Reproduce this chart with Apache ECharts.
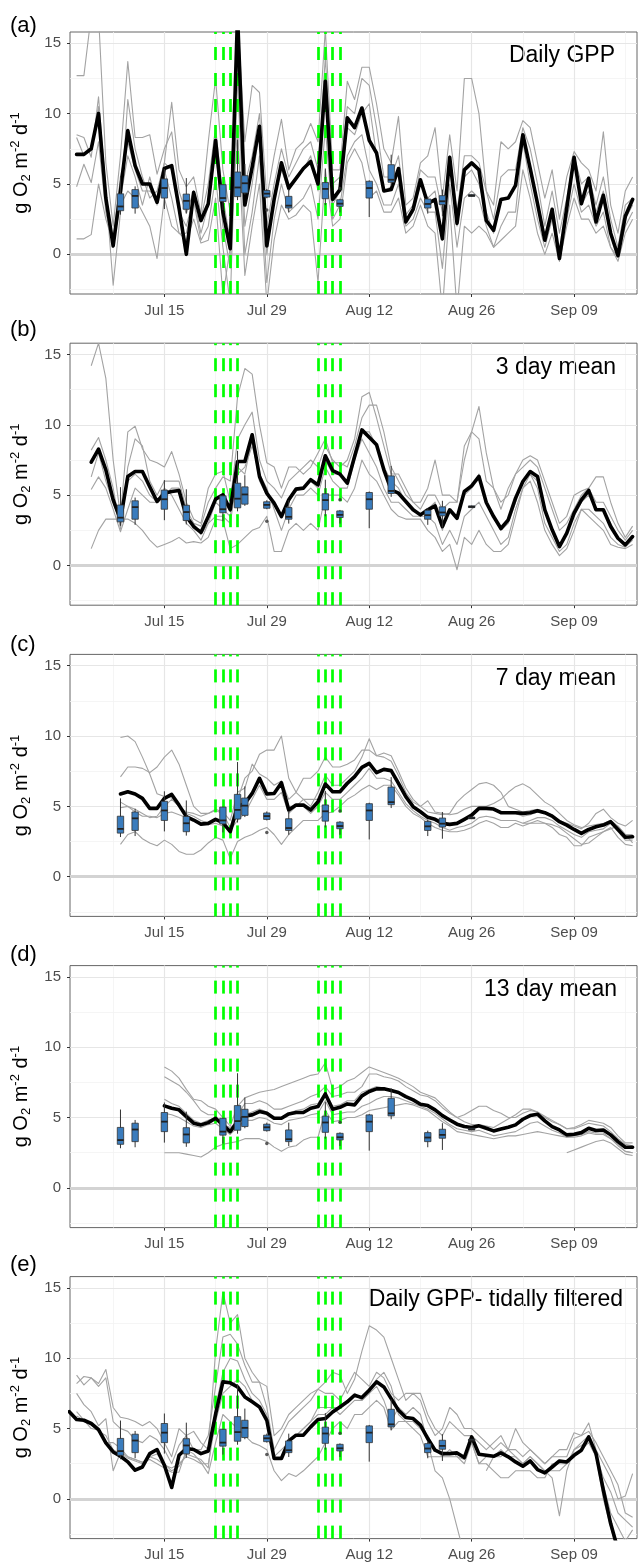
<!DOCTYPE html>
<html>
<head>
<meta charset="utf-8">
<script src="https://cdn.jsdelivr.net/npm/echarts@6/dist/echarts.min.js"></script>
<style>
  html, body { margin: 0; padding: 0; background: #fff; }
  #chart { width: 638px; height: 1562px; }
</style>
</head>
<body>
<div id="chart"></div>
<script>
var FONT = '"Liberation Sans", Arial, sans-serif';

// x values are day numbers: Jul d -> d, Aug d -> 31 + d, Sep d -> 62 + d
const tickDays = [15, 29, 43, 57, 71];
const tickLabels = ['Jul 15', 'Jul 29', 'Aug 12', 'Aug 26', 'Sep 09'];
const minorDays = [8, 22, 36, 50, 64, 78];
const yTicks = [0, 5, 10, 15];
const yMinor = [-2.5, 2.5, 7.5, 12.5];
// green dashed event days (Jul 22-25, Aug 5-8)
const eventDays = [22, 23, 24, 25, 36, 37, 38, 39];

// chamber measurements: min, q1, median, q3, max
const boxDays = [9, 11, 15, 18, 23, 25, 26, 29, 32, 37, 39, 43, 46, 51, 53, 57];
const boxStats = [
  [2.82, 3.1, 3.4, 4.3, 5.57],
  [2.89, 3.29, 4.15, 4.6, 4.83],
  [3.22, 4.0, 4.71, 5.36, 6.07],
  [2.92, 3.2, 3.8, 4.28, 5.42],
  [3.15, 3.75, 4.0, 4.95, 4.98],
  [3.85, 4.1, 4.75, 5.85, 8.15],
  [4.24, 4.36, 5.05, 5.59, 6.42],
  [4.0, 4.07, 4.31, 4.53, 4.64],
  [2.98, 3.29, 3.46, 4.12, 4.64],
  [3.5, 3.95, 4.65, 5.1, 6.1],
  [2.98, 3.41, 3.6, 3.88, 3.95],
  [2.65, 4.0, 4.71, 5.19, 5.26],
  [4.88, 5.12, 5.3, 6.37, 7.08],
  [2.89, 3.29, 3.58, 3.93, 4.07],
  [2.7, 3.53, 3.77, 4.17, 4.6],
  [4.1, 4.12, 4.17, 4.24, 4.26]
];
const outlierPts = [[29, 3.15], [39, 4.67]];

const panelLabels = ['(a)', '(b)', '(c)', '(d)', '(e)'];
const panelTitles = ['Daily GPP', '3 day mean', '7 day mean', '13 day mean', 'Daily GPP- tidally filtered'];

// (a) daily GPP, Jul 3 - Sep 17
const startA = 3;
const meanA = [
  7.1, 7.1, 7.5, 10.0, 4.0, 0.6, 4.5, 8.8, 6.3, 5.0, 5.0, 3.7, 6.1, 6.3, 3.3, 0.0, 4.4, 2.4, 3.6, 8.1, 3.0, 0.4, 17.0, 3.5, 6.2, 9.1, 0.6, 3.9, 6.5,
  4.7, 5.4, 6.1, 6.6, 5.0, 12.3, 3.9, 4.6, 9.7, 9.0, 10.4, 8.1, 7.2, 4.5, 4.6, 6.1, 2.3, 3.2, 5.3, 3.6, 3.9, 1.1, 6.9, 2.2, 6.0, 6.5, 6.0, 2.4, 1.7, 3.9, 4.0,
  4.9, 8.5, 6.1, 3.6, 1.0, 3.2, -0.3, 3.3, 6.9, 3.6, 5.4, 2.3, 4.2, 1.5, -0.1, 2.7, 3.9
];
const grayA = [
  [12.7, 12.7, 17.0, 17.0, 6.5, 2.0, 7.0, 13.7, 8.3, 8.3, 8.5, 5.7, 7.5, 8.7, 4.5, 2.9, 4.5, 2.5, 5.0, 9.0, 4.0, 1.0, 16.0, 5.0, 7.0, 10.0, 2.0, 5.0, 7.5,
   5.5, 6.5, 7.5, 8.0, 6.0, 14.0, 5.0, 5.5, 10.5, 10.0, 12.5, 12.0, 9.0, 5.5, 5.5, 7.0, 2.8, 3.5, 6.0, 5.5, 5.5, 3.0, 7.0, 3.0, 7.0, 7.0, 6.5, 4.5, 2.5, 5.5, 6.0,
   6.0, 9.0, 7.5, 5.0, 2.0, 4.5, 1.5, 4.0, 7.0, 5.0, 5.5, 3.5, 5.5, 2.5, 0.5, 3.5, 4.0],
  [8.5, 8.3, 6.9, 11.2, 4.5, -2.2, 3.0, 11.0, 7.5, 5.5, 4.0, 4.5, 6.5, 10.8, 6.0, 4.8, 5.5, 2.9, 8.0, 12.5, 6.0, 3.0, 17.0, 8.0, 12.0, 11.5, 4.0, 7.0, 9.6,
   6.0, 7.5, 8.0, 9.3, 8.0, 16.0, 6.0, 6.0, 12.3, 11.0, 13.3, 13.3, 10.7, 7.5, 6.5, 9.8, 3.5, 4.0, 6.5, 7.0, 9.0, 4.0, 8.5, 4.5, 12.5, 12.5, 10.0, 4.5, 3.5, 8.0, 7.5,
   8.0, 9.5, 9.0, 6.5, 4.0, 6.0, 2.5, 5.5, 7.3, 6.5, 6.0, 4.5, 8.7, 3.5, 1.5, 4.5, 5.5],
  [4.8, 6.4, 5.1, 8.0, 3.0, 0.5, 4.0, 7.0, 5.5, 3.5, 5.5, 3.5, 6.0, 4.0, 1.5, 1.5, 3.8, 1.0, 2.0, 5.5, 0.5, -3.5, 12.7, 0.0, 3.0, 7.0, -2.0, 2.5, 5.0,
   3.0, 3.5, 4.0, 5.0, 2.5, 9.0, 2.5, 3.5, 7.0, 8.0, 8.5, 6.0, 5.0, 3.5, 3.5, 5.0, 2.0, 2.5, 4.0, 3.0, 3.0, -1.0, 5.0, 0.5, 4.0, 4.5, 4.0, 2.0, 0.5, 2.0, 3.0,
   3.0, 8.0, 5.0, 2.5, 0.5, 2.5, -0.3, 2.5, 5.0, 3.0, 3.5, 2.0, 3.0, 0.5, -0.2, 2.0, 3.0],
  [1.1, 1.1, 1.4, 5.0, 2.5, 0.8, 3.5, 4.5, 4.0, 3.0, 2.0, -0.3, 4.0, 2.0, 1.5, 1.0, 2.5, 0.8, 1.0, 4.0, -3.0, 0.5, 9.0, -1.5, 2.0, 5.0, -3.5, 1.0, 3.5,
   2.5, 2.8, 3.5, 3.0, -2.0, 6.0, 2.0, 2.5, 6.5, 7.5, 6.5, 4.0, 4.5, 3.0, 3.0, 4.0, 1.5, 2.0, 3.5, 2.0, 1.5, -4.0, 3.5, -4.0, 2.0, 1.5, 2.0, 1.5, 0.5, 1.0, 1.5,
   2.0, 6.0, 4.0, 1.5, 0.0, 1.5, -0.5, 2.0, 4.0, 2.5, 2.5, 1.5, 2.0, 0.5, -0.5, 1.5, 2.5],
  [8.3, 7.0, 7.5, 10.5, 3.5, 1.0, 5.5, 8.0, 6.0, 4.5, 4.5, 4.0, 6.5, 6.0, 3.0, 2.0, 4.0, 1.5, 3.5, 7.5, 2.0, -1.0, 14.0, 2.0, 5.0, 9.0, 0.0, 4.0, 6.0,
   4.5, 5.5, 6.0, 7.0, 4.5, 12.0, 3.5, 4.5, 9.0, 8.5, 10.0, 10.7, 7.0, 4.5, 4.8, 6.0, 2.2, 3.0, 5.0, 4.0, 4.5, 1.0, 6.5, 2.0, 5.5, 6.0, 5.0, 3.0, 1.5, 4.0, 4.0,
   5.0, 8.5, 6.0, 3.5, 1.0, 3.0, 0.0, 3.5, 6.5, 3.5, 4.5, 3.0, 4.5, 1.5, 0.0, 2.5, 3.5]
];

// (b) 3 day mean, Jul 5 - Sep 17
const startB = 5;
const meanB = [
  7.35, 8.27, 6.8, 4.67, 3.25, 6.33, 6.68, 6.68, 5.6, 4.55, 5.14, 5.26, 5.33, 3.48, 2.77, 2.35, 3.48, 4.72, 5.02, 3.96, 7.39, 7.39, 9.29, 6.33, 5.14, 4.43, 3.48,
  4.67, 5.43, 5.5, 6.1, 5.73, 7.8, 6.75, 6.5, 5.85, 7.75, 9.64, 9.12, 8.58, 6.8, 5.38, 5.14, 4.55, 3.96, 3.6, 3.96, 4.24, 2.77, 3.96, 3.36, 5.26, 5.66, 6.33, 4.48, 3.48, 2.63, 3.25,
  4.79, 5.97, 6.68, 6.33, 3.96, 2.54, 1.35, 2.3, 3.72, 4.67, 5.33, 3.96, 3.96, 2.77, 1.94, 1.47, 2.06
];
const grayB = [
  [14.2, 15.8, 13.3, 7.5, 3.5, 9.5, 9.9, 8.3, 7.5, 7.3, 7.0, 8.1, 6.5, 4.5, 3.3, 3.0, 5.5, 6.5, 6.7, 4.5, 9.0, 10.0, 10.9, 7.5, 6.0, 5.5, 4.8,
   6.0, 6.5, 7.0, 7.5, 7.0, 8.5, 7.5, 7.0, 7.5, 9.0, 12.0, 12.3, 10.5, 8.5, 6.5, 6.5, 5.5, 4.5, 4.5, 5.5, 7.5, 5.0, 5.0, 4.5, 7.5, 9.5, 9.0, 6.0, 5.5, 4.0, 5.5,
   6.5, 7.0, 7.5, 7.0, 5.5, 4.0, 2.5, 3.0, 4.0, 5.0, 5.5, 4.5, 4.5, 3.5, 2.5, 1.8, 2.5],
  [8.2, 9.1, 7.5, 5.5, 2.6, 7.0, 9.0, 8.5, 6.0, 5.0, 6.0, 6.0, 6.0, 4.0, 3.0, 2.8, 4.5, 5.5, 6.3, 6.0, 12.0, 14.0, 13.6, 10.0, 7.3, 7.0, 5.5,
   7.0, 7.0, 6.5, 7.0, 8.0, 9.0, 7.3, 7.3, 7.0, 8.5, 10.5, 11.4, 11.4, 9.5, 7.0, 6.0, 5.0, 4.5, 4.0, 5.0, 5.0, 4.0, 4.5, 4.5, 8.5, 9.5, 11.3, 8.0, 5.5, 4.5, 5.0,
   6.5, 7.5, 7.8, 7.5, 6.0, 4.5, 3.0, 3.5, 5.0, 5.3, 5.5, 6.3, 6.3, 4.5, 3.0, 2.0, 2.8],
  [5.4, 6.3, 5.5, 4.0, 2.4, 4.0, 5.5, 5.0, 4.5, 4.5, 5.5, 5.0, 4.0, 3.0, 2.5, 1.8, 3.0, 3.5, 3.5, 3.0, 6.5, 7.0, 8.5, 6.5, 5.5, 4.0, 2.5,
   4.0, 5.0, 5.0, 5.5, 5.0, 7.0, 6.0, 5.5, 5.5, 7.5, 9.0, 8.0, 7.0, 5.5, 4.5, 4.5, 4.0, 3.5, 3.5, 3.5, 3.0, 1.5, 2.5, 1.5, 3.5, 4.0, 4.5, 3.5, 2.5, 1.5, 2.0,
   4.0, 5.5, 6.5, 5.5, 3.0, 2.0, 1.0, 1.5, 3.0, 4.0, 4.0, 3.5, 3.0, 2.0, 1.5, 1.3, 1.8],
  [1.2, 2.5, 3.3, 3.3, 3.3, 3.3, 3.0, 2.5, 1.8, 1.3, 1.5, 1.7, 2.0, 1.6, 1.7, 1.6, 2.0, 3.3, 3.2, 1.2, 1.5, 2.0, 2.5, 2.7, 3.5, 1.0, 1.0,
   2.5, 3.0, 2.5, 3.0, 2.5, 5.0, 5.0, 5.0, 4.5, 5.5, 7.5, 6.5, 6.0, 5.0, 4.0, 3.5, 3.3, 3.3, 3.3, 2.5, 2.0, 1.0, 1.5, -0.3, 2.0, 1.5, 2.5, 1.5, 1.0, 1.0, 1.5,
   3.5, 5.5, 6.0, 4.5, 2.5, 1.5, 0.7, 1.2, 2.5, 4.0, 3.5, 3.0, 2.5, 1.5, 1.3, 1.2, 1.5],
  [6.3, 8.0, 6.0, 4.5, 3.0, 6.0, 6.5, 6.0, 5.0, 4.5, 5.0, 5.5, 5.5, 3.5, 3.0, 2.2, 3.0, 4.5, 4.0, 3.5, 7.0, 6.5, 9.0, 6.0, 5.0, 4.5, 3.5,
   4.5, 5.5, 5.5, 6.0, 5.5, 7.5, 6.5, 6.5, 6.0, 8.0, 9.5, 9.5, 8.5, 7.0, 6.0, 5.5, 4.5, 4.0, 3.5, 4.0, 4.5, 2.5, 4.0, 3.5, 5.0, 5.5, 6.5, 4.5, 3.5, 2.5, 3.0,
   4.5, 6.0, 6.5, 6.0, 4.0, 2.5, 1.3, 2.3, 3.5, 4.5, 5.0, 4.0, 4.0, 3.0, 2.0, 1.5, 2.0]
];

// (c) 7 day mean, Jul 9 - Sep 17
const startC = 9;
const meanC = [
  5.88, 6.04, 5.88, 5.57, 4.86, 4.86, 5.57, 5.85, 5.09, 4.27, 4.03, 3.74, 3.79, 4.08, 3.84, 3.2, 4.98, 5.21, 5.92, 6.99, 5.88, 5.92, 6.68,
  4.74, 5.09, 5.09, 4.74, 5.33, 6.59, 6.04, 6.04, 6.64, 7.11, 7.77, 8.06, 7.39, 7.63, 7.54, 6.64, 5.69, 4.98, 4.62, 4.22, 4.08, 3.79, 3.72, 3.79, 4.08, 4.38, 4.86, 4.86, 4.81, 4.55, 4.55,
  4.55, 4.5, 4.55, 4.69, 4.55, 4.31, 3.91, 3.67, 3.36, 3.08, 3.36, 3.55, 3.67, 3.91, 3.36, 2.8, 2.84
];
const grayC = [
  [9.9, 10.0, 9.6, 8.5, 7.3, 5.9, 5.7, 5.6, 5.0, 4.6, 4.5, 4.3, 4.5, 4.7, 4.5, 3.5, 5.5, 7.0, 7.5, 8.7, 9.0, 9.0, 10.0,
   7.0, 6.0, 5.5, 5.0, 6.0, 7.2, 6.5, 6.5, 7.0, 7.5, 8.5, 9.8, 8.6, 8.8, 8.6, 7.5, 6.3, 5.5, 5.0, 4.6, 4.5, 4.4, 4.5, 5.3, 5.8, 6.2, 6.6, 6.7, 6.5, 6.0, 5.0,
   4.8, 4.6, 4.7, 4.8, 4.6, 4.4, 4.0, 3.8, 3.6, 3.4, 3.8, 4.5, 4.8, 4.2, 3.8, 3.6, 4.0],
  [7.1, 7.8, 7.8, 7.7, 7.4, 7.8, 8.5, 9.0, 8.0, 6.5, 5.0, 4.5, 4.5, 4.8, 4.6, 4.0, 6.0, 6.3, 8.0, 7.3, 7.0, 6.5, 6.8,
   5.5, 6.0, 7.0, 7.0, 7.5, 8.5, 7.8, 7.8, 8.0, 8.3, 9.0, 9.0, 8.6, 8.5, 8.2, 7.2, 6.0, 5.3, 5.0, 5.4, 4.6, 4.5, 4.4, 4.5, 4.8, 5.0, 5.0, 5.0, 5.2, 5.5, 6.0,
   6.4, 6.6, 6.3, 5.8, 5.3, 5.0, 4.5, 4.0, 3.7, 3.5, 3.6, 3.7, 3.8, 4.0, 3.6, 3.0, 3.0],
  [5.3, 5.0, 4.6, 4.3, 4.3, 4.2, 4.5, 4.6, 4.4, 4.2, 4.0, 3.8, 3.7, 3.8, 3.6, 3.3, 4.0, 4.5, 5.5, 6.5, 5.5, 5.5, 6.0,
   4.5, 5.0, 5.0, 4.5, 5.0, 6.0, 5.5, 5.5, 6.0, 6.5, 7.0, 7.7, 7.0, 7.0, 6.8, 6.0, 5.2, 4.7, 4.3, 4.0, 3.8, 3.5, 3.3, 3.5, 3.6, 3.8, 4.2, 4.3, 4.2, 4.0, 4.0,
   4.0, 3.8, 4.0, 4.2, 4.2, 4.0, 3.6, 3.3, 3.0, 2.8, 3.2, 3.3, 3.4, 3.8, 3.2, 2.6, 2.6],
  [2.3, 3.0, 3.2, 2.7, 2.4, 2.2, 2.6, 2.3, 1.8, 1.6, 1.6, 1.9, 2.4, 2.8, 2.6, 1.3, 2.5, 2.8, 3.0, 3.3, 3.5, 3.0, 2.3,
   3.0, 3.5, 4.0, 4.0, 4.0, 4.5, 4.6, 5.0, 5.5, 5.8, 6.2, 6.5, 6.2, 6.5, 6.5, 5.8, 5.0, 4.5, 4.2, 3.8, 3.5, 3.3, 3.2, 3.2, 3.3, 3.5, 3.8, 4.0, 3.8, 3.5, 3.5,
   3.8, 3.6, 3.8, 4.0, 3.8, 3.5, 3.0, 2.8, 2.2, 2.2, 2.8, 3.0, 3.2, 3.5, 2.8, 2.3, 2.2],
  [4.9, 5.0, 4.8, 4.5, 4.2, 4.3, 5.0, 5.5, 5.0, 4.5, 4.3, 4.0, 3.8, 4.0, 3.8, 3.2, 5.0, 5.2, 6.0, 7.0, 6.0, 6.0, 6.5,
   5.0, 5.0, 5.5, 5.5, 5.5, 6.5, 6.0, 6.0, 6.5, 7.0, 7.8, 8.0, 7.5, 7.6, 7.5, 6.5, 5.6, 5.0, 4.6, 4.2, 4.0, 3.8, 3.7, 3.8, 4.0, 4.3, 4.8, 4.8, 4.8, 4.5, 4.5,
   4.5, 4.3, 4.4, 4.6, 4.5, 4.3, 3.9, 3.7, 3.4, 3.1, 3.4, 3.6, 3.6, 3.9, 3.3, 2.8, 2.8]
];
// station with a late start, Sep 2 - Sep 17
const lateStartC = 64;
const lateC = [3.8, 3.8, 3.8, 3.8, 3.7, 3.5, 3.1, 2.7, 2.3, 2.4, 2.8, 3.2, 3.4, 3.6, 3.0, 2.4];

// (d) 13 day mean, Jul 15 - Sep 17
const startD = 15;
const meanD = [
  5.83, 5.66, 5.55, 5.07, 4.6, 4.48, 4.64, 4.95, 4.48, 4.0, 4.72, 5.12, 5.19, 5.43, 5.31, 4.95, 4.95,
  5.26, 5.36, 5.36, 5.66, 5.78, 6.68, 5.59, 5.73, 5.97, 5.9, 6.54, 6.85, 7.04, 7.04, 6.92, 6.78, 6.49, 6.26, 5.95, 5.85, 5.55, 5.14, 4.83, 4.53, 4.36, 4.29, 4.41, 4.24, 4.05, 4.19, 4.31,
  4.48, 4.88, 5.14, 5.24, 4.76, 4.36, 4.12, 3.77, 3.82, 3.93, 4.24, 4.08, 4.12, 3.77, 3.29, 2.89, 2.89
];
const grayD = [
  [8.6, 8.3, 7.8, 7.0, 6.3, 6.2, 5.8, 5.6, 5.0, 4.4, 5.8, 6.4, 6.6, 6.8, 6.9, 7.0, 7.2,
   7.4, 7.6, 7.8, 8.0, 8.1, 8.9, 7.0, 7.2, 7.6, 7.8, 8.2, 8.6, 8.4, 8.2, 8.0, 7.8, 7.5, 7.2, 6.8, 6.6, 6.4, 5.9, 5.4, 5.0, 4.7, 4.5, 4.5, 4.4, 4.3, 4.6, 4.9,
   5.2, 5.6, 5.6, 5.4, 5.1, 4.8, 4.5, 4.2, 4.3, 4.5, 4.8, 4.7, 4.6, 4.3, 3.7, 3.2, 3.2],
  [7.9, 7.6, 7.3, 6.8, 6.2, 5.5, 5.2, 5.2, 4.2, 3.9, 5.2, 6.0, 6.0, 6.2, 6.0, 5.6, 5.6,
   5.8, 6.0, 6.2, 6.5, 6.7, 7.2, 6.5, 6.6, 6.8, 6.8, 7.2, 8.1, 8.1, 7.9, 7.8, 7.6, 7.2, 6.9, 6.6, 6.5, 6.2, 5.7, 5.3, 5.0, 5.2, 5.5, 5.8, 5.8, 5.5, 5.3, 5.0,
   5.0, 5.3, 5.5, 5.4, 5.0, 4.7, 4.5, 4.2, 4.2, 4.4, 4.6, 4.5, 4.4, 4.0, 3.5, 3.1, 3.0],
  [5.3, 5.2, 5.0, 4.7, 4.4, 4.3, 4.5, 4.6, 4.2, 3.8, 4.3, 4.8, 4.8, 5.0, 4.9, 4.6, 4.5,
   4.8, 4.9, 5.0, 5.2, 5.3, 6.2, 5.2, 5.3, 5.4, 5.4, 5.8, 6.0, 6.3, 6.5, 6.5, 6.4, 6.2, 6.0, 5.8, 5.6, 5.3, 4.9, 4.5, 4.2, 4.1, 4.0, 4.1, 3.9, 3.7, 3.8, 3.9,
   4.0, 4.3, 4.6, 4.7, 4.4, 4.1, 3.9, 3.6, 3.7, 3.8, 4.0, 3.9, 3.9, 3.5, 3.1, 2.6, 2.5],
  [2.5, 2.5, 2.5, 2.4, 2.3, 2.2, 2.5, 2.9, 3.1, 3.2, 3.3, 3.5, 3.5, 3.5, 3.3, 2.9, 2.6,
   2.9, 3.0, 3.4, 3.6, 3.6, 5.5, 4.7, 4.8, 5.0, 5.0, 5.2, 5.5, 5.6, 5.7, 5.8, 5.9, 6.0, 5.9, 5.7, 5.5, 5.1, 4.7, 4.4, 4.0, 3.9, 3.8, 3.7, 3.6, 3.5, 3.6, 3.7,
   3.7, 3.8, 3.9, 4.0, 3.9, 3.8, 3.7, 3.6, 3.6, 3.7, 3.9, 3.8, 3.8, 3.5, 3.0, 2.6, 2.5],
  [6.3, 6.0, 5.8, 5.3, 4.8, 4.6, 4.8, 5.0, 4.5, 4.3, 4.7, 5.2, 5.4, 5.6, 5.4, 5.0, 5.0,
   5.3, 5.5, 5.6, 5.9, 6.0, 6.8, 5.8, 5.9, 6.2, 6.2, 6.8, 7.0, 7.2, 7.1, 7.0, 6.8, 6.5, 6.3, 6.0, 5.9, 5.6, 5.2, 4.9, 4.6, 4.4, 4.3, 4.4, 4.2, 4.0, 4.2, 4.3,
   4.5, 4.9, 5.1, 5.2, 4.8, 4.4, 4.1, 3.8, 3.8, 3.9, 4.2, 4.1, 4.1, 3.8, 3.3, 2.9, 2.9]
];
// station with a late start, Sep 8 - Sep 17
const lateStartD = 70;
const lateD = [2.5, 2.7, 2.9, 3.1, 3.3, 3.4, 3.2, 2.8, 2.4, 2.3];

// (e) daily GPP, tidally filtered: mean Jul 2 - Sep 17, stations Jul 3 - Sep 17
const startE = 2;
const meanE = [
  6.2, 5.64, 5.59, 5.36, 4.93, 3.98, 3.34, 3.03, 2.63, 2.04, 2.27, 3.22, 3.51, 2.39, 0.81, 3.1, 3.58, 3.51, 3.22, 3.41, 6.02, 8.32, 8.25, 7.96, 7.25, 6.9, 6.54, 5.59, 2.87, 2.87,
  4.12, 4.53, 4.53, 5.12, 5.64, 5.71, 6.18, 6.54, 6.9, 7.37, 7.2, 7.73, 8.32, 7.96, 7.13, 6.3, 5.78, 5.71, 5.24, 4.29, 3.46, 3.22, 3.22, 3.27, 2.94, 4.41, 3.18, 3.1, 3.03, 3.27, 2.99,
  2.63, 2.32, 2.7, 2.09, 1.85, 2.27, 2.7, 2.63, 3.1, 3.46, 4.41, 3.22, 0.62, -1.75, -3.6, -5.0, -6.0
];
const grayStartE = 3;
const grayE = [
  [8.8, 8.1, 8.6, 8.2, 9.2, 6.5, 5.8, 5.7, 5.5, 5.2, 5.5, 5.0, 4.0, 3.0, 5.0, 4.5, 3.5, 3.5, 4.5, 8.0, 11.5, 11.7, 11.0, 9.5, 8.3, 8.3, 6.5, 3.5, 4.5,
   5.5, 6.0, 6.5, 7.0, 7.8, 8.3, 9.0, 8.8, 7.5, 8.5, 10.5, 12.3, 12.0, 11.5, 10.0, 8.5, 7.0, 7.5, 7.0, 5.5, 4.5, 5.0, 6.5, 6.0, 5.0, 5.0, 4.5, 4.0, 3.5, 4.0, 3.5,
   3.5, 3.0, 3.5, 3.0, 2.5, 3.0, 3.5, 3.5, 4.7, 4.5, 5.4, 3.5, 2.5, 1.5, 0.0, 0.2, 1.8],
  [8.2, 8.7, 8.6, 8.0, 8.6, 5.5, 5.0, 4.8, 4.2, 4.0, 4.5, 4.2, 3.5, 2.5, 3.8, 4.5, 4.8, 4.0, 3.5, 10.5, 14.7, 12.5, 13.1, 10.0, 9.0, 8.3, 8.0, 4.5, 5.0,
   6.0, 6.5, 7.0, 7.5, 7.8, 7.5, 7.5, 7.0, 8.0, 9.0, 8.5, 8.0, 9.0, 8.6, 7.5, 7.0, 7.5, 7.5, 7.5, 6.0, 5.0, 4.5, 5.5, 5.0, 4.5, 4.5, 4.0, 3.5, 4.0, 4.5, 3.5,
   5.0, 4.0, 3.5, 3.0, 2.5, 3.0, 3.0, 3.0, 4.3, 4.5, 4.8, 4.0, 3.0, 2.0, 1.0, -1.0, -1.3],
  [7.5, 6.7, 6.2, 5.2, 5.7, 2.0, 3.3, 3.0, 2.8, 2.6, 3.0, 3.2, 2.5, 2.0, 2.3, 3.2, 3.0, 2.8, 2.2, 6.5, 9.0, 10.0, 9.8, 8.5, 7.5, 7.0, 6.0, 3.0, 3.5,
   4.0, 4.5, 5.0, 5.5, 6.5, 6.5, 6.5, 6.0, 6.5, 7.0, 7.0, 7.5, 8.0, 7.0, 5.5, 6.5, 6.0, 6.5, 6.0, 4.0, 2.0, 1.5, 0.0, -2.0, -4.0, -6.0, null, 2.0, 3.0, 3.5, 3.0,
   3.0, 2.5, 3.0, 2.5, 2.0, 1.5, -1.2, 2.0, 3.5, 4.0, 4.5, 3.0, 1.0, -1.0, -2.0, -3.0, -2.2],
  [6.2, 5.6, 5.0, 4.9, 4.0, 4.0, 3.6, 3.0, 2.8, 2.6, 2.8, 2.5, 2.2, 1.9, 1.9, 3.5, 3.2, 2.6, 1.8, 4.0, 6.0, 5.5, 5.0, 4.5, 4.0, 3.8, 3.5, 2.0, 1.3,
   1.8, 1.6, 2.0, 2.5, 3.0, 4.0, 5.0, 5.5, 5.0, 6.0, 6.0, 6.5, 7.0, 6.5, 4.9, 5.5, 5.5, 5.0, 4.5, 3.0, 3.0, 3.0, 3.5, 3.0, 2.5, 4.0, 2.5, 2.5, 2.0, 1.5, 1.5,
   2.0, 2.0, 2.0, 1.5, 1.5, 2.5, 2.5, 2.5, 3.0, 3.5, 4.0, 3.0, 0.0, -2.0, -4.0, -4.5, -5.0],
  [5.9, 5.6, 5.3, 4.8, 4.5, 3.5, 3.2, 2.9, 2.7, 2.5, 3.0, 2.8, 2.4, 2.2, 2.5, 3.0, 2.8, 2.5, 2.5, 5.5, 7.5, 8.0, 8.5, 8.0, 7.0, 6.5, 5.5, 3.0, 3.0,
   4.0, 4.5, 5.0, 5.5, 6.0, 6.0, 6.5, 6.5, 7.0, 7.5, 7.0, 7.5, 8.5, 9.0, 8.0, 6.0, 5.5, 5.5, 5.0, 4.5, 3.5, 3.0, 3.0, 3.0, 2.8, 4.0, 2.5, 3.0, 3.0, 3.0, 3.5,
   3.0, 2.5, 3.0, 2.5, 2.0, 2.0, 2.0, 2.5, 3.5, 3.8, 4.2, 3.2, 1.5, 0.5, -1.0, -1.5, -2.0]
];

var panels = [
  { meanStart: startA, mean: meanA, grayStart: startA, grays: grayA, late: null },
  { meanStart: startB, mean: meanB, grayStart: startB, grays: grayB, late: null },
  { meanStart: startC, mean: meanC, grayStart: startC, grays: grayC, late: { start: lateStartC, vals: lateC } },
  { meanStart: startD, mean: meanD, grayStart: startD, grays: grayD, late: { start: lateStartD, vals: lateD } },
  { meanStart: startE, mean: meanE, grayStart: grayStartE, grays: grayE, late: null }
];

// layout
var gridTops = [32, 343.2, 654.4, 965.6, 1276.6];
var gridHeight = 262;
var labelY = [26, 329.5, 645, 955, 1264.5];
var titleY = [56, 367.5, 678.5, 989.5, 1300];
var titleRight = [615, 616, 616, 617, 623];

function pairs(start, vals) {
  return vals.map(function (v, i) { return [start + i, v]; });
}

var majorStyle = { color: '#e6e6e6', width: 1.2, type: 'solid' };
var minorStyle = { color: '#f2f2f2', width: 0.8, type: 'solid' };
var zeroStyle = { color: '#d3d3d3', width: 3, type: 'solid' };

function gridLines() {
  var d = [];
  minorDays.forEach(function (v) { d.push({ xAxis: v, lineStyle: minorStyle }); });
  yMinor.forEach(function (v) { d.push({ yAxis: v, lineStyle: minorStyle }); });
  tickDays.forEach(function (v) { d.push({ xAxis: v, lineStyle: majorStyle }); });
  yTicks.forEach(function (v) { d.push({ yAxis: v, lineStyle: majorStyle }); });
  d.push({ yAxis: 0, lineStyle: zeroStyle });
  return d;
}

function renderBox(params, api) {
  var x = api.value(0);
  var pMin = api.coord([x, api.value(1)]);
  var pQ1 = api.coord([x, api.value(2)]);
  var pMed = api.coord([x, api.value(3)]);
  var pQ3 = api.coord([x, api.value(4)]);
  var pMax = api.coord([x, api.value(5)]);
  var hw = 3.2;
  return {
    type: 'group',
    children: [
      { type: 'line', shape: { x1: pMin[0], y1: pMin[1], x2: pMax[0], y2: pMax[1] }, style: { stroke: '#333', lineWidth: 1 } },
      { type: 'rect', shape: { x: pQ3[0] - hw, y: pQ3[1], width: 2 * hw, height: pQ1[1] - pQ3[1] }, style: { fill: '#3a7cbd', stroke: '#333', lineWidth: 0.8 } },
      { type: 'line', shape: { x1: pMed[0] - hw, y1: pMed[1], x2: pMed[0] + hw, y2: pMed[1] }, style: { stroke: '#222', lineWidth: 1.8 } }
    ]
  };
}

var grids = [], xAxes = [], yAxes = [], series = [], graphics = [];

panels.forEach(function (p, i) {
  grids.push({
    left: 70, width: 567, top: gridTops[i], height: gridHeight,
    show: true, borderColor: '#666', borderWidth: 1, backgroundColor: '#fff',
    outerBoundsMode: 'none'
  });
  xAxes.push({
    gridIndex: i, type: 'value', min: 2.1, max: 79.6,
    axisLine: { show: false, onZero: false },
    axisTick: { show: true, length: 3, lineStyle: { color: '#333' }, customValues: tickDays },
    axisLabel: {
      customValues: tickDays, margin: 9, fontSize: 15, color: '#4d4d4d', fontFamily: FONT,
      formatter: function (v) { return tickLabels[tickDays.indexOf(v)]; }
    },
    splitLine: { show: false }
  });
  yAxes.push({
    gridIndex: i, type: 'value', min: -2.82, max: 15.8,
    axisLine: { show: false, onZero: false },
    axisTick: { show: true, length: 3, lineStyle: { color: '#333' }, customValues: yTicks },
    axisLabel: { customValues: yTicks, margin: 9, fontSize: 15, color: '#4d4d4d', fontFamily: FONT },
    splitLine: { show: false },
    name: '{n|g O}{sub|2}{n| m}{sup|-2}{n| d}{sup|-1}',
    nameLocation: 'middle', nameRotate: 90, nameGap: 36,
    nameTextStyle: {
      fontFamily: FONT, color: '#000', fontSize: 20,
      rich: {
        n: { fontFamily: FONT, fontSize: 20, color: '#000', lineHeight: 24 },
        sub: { fontFamily: FONT, fontSize: 13, color: '#000', lineHeight: 13, verticalAlign: 'bottom' },
        sup: { fontFamily: FONT, fontSize: 13, color: '#000', lineHeight: 13, verticalAlign: 'top' }
      }
    }
  });

  p.grays.forEach(function (g, k) {
    var s = {
      type: 'line', xAxisIndex: i, yAxisIndex: i, data: pairs(p.grayStart, g),
      symbol: 'none', silent: true, clip: true, z: 2,
      lineStyle: { color: '#a3a3a3', width: 1.1, join: 'round' }
    };
    if (k === 0) {
      s.markLine = { silent: true, z: 1, symbol: ['none', 'none'], label: { show: false }, animation: false, data: gridLines() };
    }
    series.push(s);
  });
  if (p.late) {
    series.push({
      type: 'line', xAxisIndex: i, yAxisIndex: i, data: pairs(p.late.start, p.late.vals),
      symbol: 'none', silent: true, clip: true, z: 2,
      lineStyle: { color: '#a3a3a3', width: 1.1, join: 'round' }
    });
  }
  series.push({
    type: 'line', xAxisIndex: i, yAxisIndex: i, data: pairs(p.meanStart, p.mean),
    symbol: 'none', silent: true, clip: true, z: 4,
    lineStyle: { color: '#000', width: 3.6, join: 'round', cap: 'round' },
    markLine: {
      silent: true, z: 3, symbol: ['none', 'none'], label: { show: false }, animation: false,
      lineStyle: { color: '#00ff00', width: 2.7, type: [13, 13] },
      data: eventDays.map(function (d) { return { xAxis: d }; })
    }
  });
  series.push({
    type: 'custom', xAxisIndex: i, yAxisIndex: i, z: 5, silent: true,
    renderItem: renderBox,
    encode: { x: 0, y: [1, 2, 3, 4, 5] },
    data: boxDays.map(function (d, j) { return [d].concat(boxStats[j]); })
  });
  series.push({
    type: 'scatter', xAxisIndex: i, yAxisIndex: i, z: 6, silent: true,
    symbolSize: 3.5, itemStyle: { color: '#333' },
    data: outlierPts
  });

  graphics.push({
    type: 'text', x: 10, y: labelY[i], silent: true,
    style: { text: panelLabels[i], fontSize: 22, fontFamily: FONT, fill: '#000', textAlign: 'left', textVerticalAlign: 'middle', verticalAlign: 'middle' }
  });
  graphics.push({
    type: 'text', x: titleRight[i], y: titleY[i], silent: true,
    style: { text: panelTitles[i], fontSize: 23, fontFamily: FONT, fill: '#000', textAlign: 'right', textVerticalAlign: 'middle', verticalAlign: 'middle' }
  });
});

var chart = echarts.init(document.getElementById('chart'), null, { renderer: 'canvas' });
chart.setOption({
  animation: false,
  backgroundColor: '#fff',
  grid: grids,
  xAxis: xAxes,
  yAxis: yAxes,
  series: series,
  graphic: graphics
});
</script>
</body>
</html>
